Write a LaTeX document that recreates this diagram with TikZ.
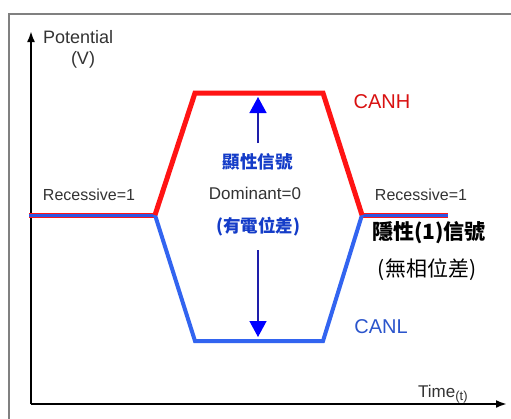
\documentclass[tikz,border=0pt]{standalone}
\usepackage{fontspec}
\setmainfont{Liberation Sans}
\newfontfamily\cjk{Noto Sans CJK TC}
\usetikzlibrary{arrows.meta}
\definecolor{canh}{RGB}{255,20,20}
\definecolor{canl}{RGB}{50,100,240}
\definecolor{navy}{RGB}{30,30,170}
\definecolor{tblue}{RGB}{20,60,200}
\definecolor{frame}{RGB}{128,128,128}
\begin{document}
\begin{tikzpicture}[x=1pt,y=-1pt,
  lbl/.style={font=\fontsize{16}{18}\selectfont, text=black!80, inner sep=0pt},
  cjkb/.style={font=\cjk\bfseries\fontsize{17.5}{20}\selectfont, text=tblue, inner sep=0pt},
  axis/.style={line width=2.2pt, -{Latex[length=11pt,width=8pt]}},
  hi/.style={canh, line width=5pt, line join=miter},
  lo/.style={canl, line width=4pt, line join=miter},
  vec/.style={navy, line width=1.4pt, -{Triangle[length=16pt,width=17pt,fill=blue,color=blue]}}
]
\useasboundingbox (0,0) rectangle (511,418);
\fill[white] (0,0) rectangle (511,418);
\draw[frame, line width=2.5pt] (9,420) -- (9,14) -- (513,14);
% axes
\coordinate (O) at (31,404);
\coordinate (Ytop) at (31,31);
\coordinate (Xend) at (507,404);
\draw[axis] (O) -- (Ytop);
\draw[axis] (O) -- (Xend);
% waveform
\coordinate (L0) at (29,215);
\coordinate (A) at (155,215);
\coordinate (B) at (195,93);
\coordinate (C) at (323,93);
\coordinate (D) at (362,215);
\coordinate (E) at (448,215);
\coordinate (F) at (195,341);
\coordinate (G) at (323,341);
\draw[canh, line width=5pt] (L0) -- (A);
\draw[canh, line width=5pt] (D) -- (E);
\draw[canl!80!navy, line width=3pt] (L0) -- (A);
\draw[canl!80!navy, line width=3pt] (D) -- (E);
\draw[lo] (A) -- (F) -- (G) -- (D);
\draw[hi] (A) -- (B) -- (C) -- (D);
% labels
\node[lbl, font=\fontsize{18}{20}\selectfont, anchor=west] (pot) at (43,37) {Potential};
\node[lbl, font=\fontsize{18}{20}\selectfont] (v) at (83,60) {(V)};
\node[font=\fontsize{20}{22}\selectfont, text=canh!85!black, inner sep=0pt] (canhT) at (382,102) {CANH};
\node[font=\fontsize{20}{22}\selectfont, text=canl!85!black, inner sep=0pt] (canlT) at (381,327) {CANL};
\node[lbl] (recL) at (89,195) {Recessive=1};
\node[lbl] (recR) at (421,195) {Recessive=1};
\node[cjkb] (dom1) at (257.5,162) {顯性信號};
\node[lbl, font=\fontsize{17}{19}\selectfont] (dom) at (255,193) {Dominant=0};
\node[cjkb] (dom2) at (258,227) {(有電位差)};
\node[font=\cjk\bfseries\fontsize{21}{23}\selectfont, inner sep=0pt] (rec1) at (429,233) {隱性(1)信號};
\node[font=\cjk\fontsize{21}{23}\selectfont, inner sep=0pt] (rec2) at (427,270) {(無相位差)};
\node[lbl, font=\fontsize{17}{19}\selectfont, anchor=base west] (time) at (418,397) {Time{\fontsize{13}{15}\selectfont\raisebox{-3pt}{(t)}}};
% dominant arrows
\coordinate (up0) at (258,143);
\coordinate (up1) at (258,97);
\coordinate (dn0) at (258,250);
\coordinate (dn1) at (258,337);
\draw[vec] (up0) -- (up1);
\draw[vec] (dn0) -- (dn1);
\end{tikzpicture}
\end{document}
